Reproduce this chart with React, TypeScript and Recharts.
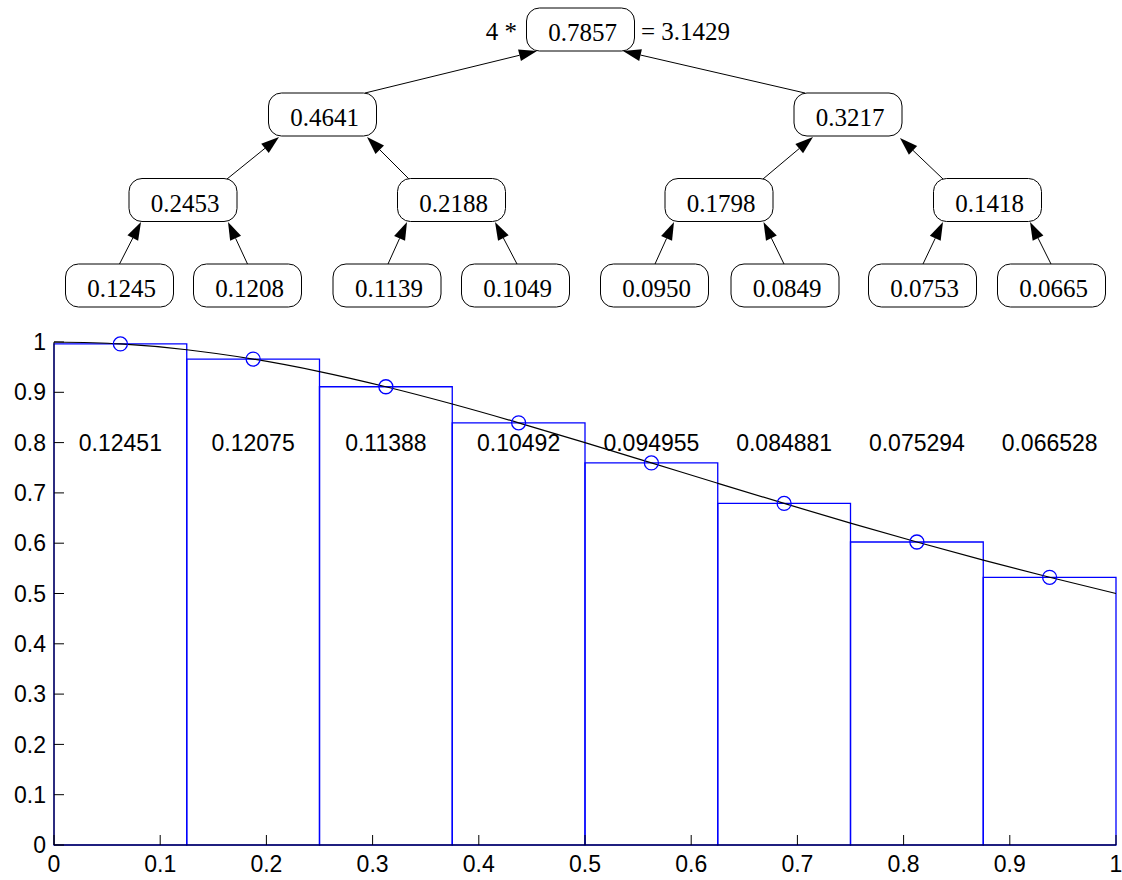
import React from 'react';
import { ComposedChart, Line, Scatter, XAxis, YAxis, ReferenceArea } from 'recharts';

// Midpoint rule for f(x) = 1 / (1 + x^2) on [0, 1] with eight panels
const binEdges = [0, 0.125, 0.25, 0.375, 0.5, 0.625, 0.75, 0.875, 1];
const midX = [0.0625, 0.1875, 0.3125, 0.4375, 0.5625, 0.6875, 0.8125, 0.9375];
const midY = [0.996109, 0.966038, 0.911032, 0.839344, 0.759644, 0.679045, 0.602353, 0.532224];
const panelAreas = ['0.12451', '0.12075', '0.11388', '0.10492', '0.094955', '0.084881', '0.075294', '0.066528'];

const curveX = [0, 0.0625, 0.125, 0.1875, 0.25, 0.3125, 0.375, 0.4375, 0.5, 0.5625, 0.625, 0.6875, 0.75, 0.8125, 0.875, 0.9375, 1];
const curveY = [1, 0.99611, 0.98462, 0.96604, 0.94118, 0.91103, 0.87671, 0.83934, 0.8, 0.75964, 0.7191, 0.67905, 0.64, 0.60235, 0.56637, 0.53222, 0.5];

const axisTicks = [0, 0.1, 0.2, 0.3, 0.4, 0.5, 0.6, 0.7, 0.8, 0.9, 1];

// Pairwise summation tree of the panel areas
const leafSums = ['0.1245', '0.1208', '0.1139', '0.1049', '0.0950', '0.0849', '0.0753', '0.0665'];
const pairSums = ['0.2453', '0.2188', '0.1798', '0.1418'];
const halfSums = ['0.4641', '0.3217'];
const totalSum = '0.7857';
const piEstimate = '3.1429';

const W = 1122;
const H = 880;
const BLUE = '#0000ff';
const SANS = '"Liberation Sans", Arial, Helvetica, sans-serif';
const SERIF = '"Liberation Serif", "Times New Roman", Times, serif';
const LABEL_LEVEL = 0.8;

const curveData = curveX.map((x, i) => ({ x, y: curveY[i] }));
const midData = midX.map((x, i) => ({ x, y: midY[i] }));
const labelData = midX.map((x, i) => ({ x, y: LABEL_LEVEL, text: panelAreas[i] }));

// tree layout (pixels)
const BOX_W = 108;
const BOX_H = 43;
const rootCx = 580.5;
const halfCx = [322.5, 848];
const pairCx = [183, 451.5, 719, 987.5];
const leafCx = [119.5, 247.5, 387, 515.5, 654.5, 785, 922.5, 1051.5];
const ROW_TOP = { root: 8, half: 93, pair: 178.5, leaf: 264 };

const edges: Array<[number, number, number, number]> = [
  [119.5, 264, 141, 222], [247.5, 264, 228, 222], [388, 264, 407, 222], [517, 264, 495, 222],
  [655, 264, 674, 222], [784, 264, 763.5, 222], [923, 264, 943, 222], [1051, 264, 1030, 222],
  [227, 179, 279, 137], [409, 179, 367, 137], [763, 179, 813, 137], [943, 179, 900, 138],
  [365, 93, 537, 51], [805, 93, 623, 51],
];

const Node = ({ cx, top, text }: { cx: number; top: number; text: string }) => (
  <g>
    <rect x={cx - BOX_W / 2} y={top} width={BOX_W} height={BOX_H} rx={13} ry={13}
      fill="#fff" stroke="#000" strokeWidth={1} />
    <text x={cx + 2} y={top + 33} textAnchor="middle" fontFamily={SERIF} fontSize={25} fill="#000">
      {text}
    </text>
  </g>
);

const Arrow = ({ e }: { e: [number, number, number, number] }) => {
  const [x1, y1, x2, y2] = e;
  const len = Math.hypot(x2 - x1, y2 - y1);
  const ux = (x2 - x1) / len;
  const uy = (y2 - y1) / len;
  const head = 18;
  const half = 6;
  const bx = x2 - ux * head;
  const by = y2 - uy * head;
  const pts = `${x2},${y2} ${bx - uy * half},${by + ux * half} ${bx + uy * half},${by - ux * half}`;
  return (
    <g>
      <line x1={x1} y1={y1} x2={bx} y2={by} stroke="#000" strokeWidth={1} />
      <polygon points={pts} fill="#000" />
    </g>
  );
};

const SumTree = () => (
  <svg width={W} height={320} style={{ position: 'absolute', left: 0, top: 0 }}>
    {edges.map((e, i) => <Arrow key={`e-${i}`} e={e} />)}
    <Node cx={rootCx} top={ROW_TOP.root} text={totalSum} />
    {halfCx.map((cx, i) => <Node key={`h-${i}`} cx={cx} top={ROW_TOP.half} text={halfSums[i]} />)}
    {pairCx.map((cx, i) => <Node key={`p-${i}`} cx={cx} top={ROW_TOP.pair} text={pairSums[i]} />)}
    {leafCx.map((cx, i) => <Node key={`l-${i}`} cx={cx} top={ROW_TOP.leaf} text={leafSums[i]} />)}
    <text x={517} y={40} textAnchor="end" fontFamily={SERIF} fontSize={25} fill="#000">4 *</text>
    <text x={641} y={40} textAnchor="start" fontFamily={SERIF} fontSize={25} fill="#000">{`= ${piEstimate}`}</text>
  </svg>
);

const fmt = (v: number) => String(Number(v.toFixed(1)));
const noLabel = () => <g />;
const tickStyle = { fill: '#000', fontSize: 23, fontFamily: SANS };

export default function App() {
  return (
    <div style={{ position: 'absolute', left: 0, top: 0, width: W, height: H, background: '#fff' }}>
      <ComposedChart width={W} height={H} margin={{ top: 342, right: 6, bottom: 0, left: 8 }}>
        <XAxis dataKey="x" type="number" domain={[0, 1]} ticks={axisTicks} tickFormatter={fmt}
          height={35} tickSize={-10} tickMargin={21} stroke="#000" tick={tickStyle} />
        <XAxis xAxisId="top" orientation="top" type="number" domain={[0, 1]} ticks={axisTicks}
          height={0} tickSize={-10} stroke="#000" tick={noLabel} />
        <YAxis type="number" domain={[0, 1]} ticks={axisTicks} tickFormatter={fmt}
          width={46} tickSize={-10} tickMargin={18} stroke="#000" tick={tickStyle} />
        <YAxis yAxisId="right" orientation="right" type="number" domain={[0, 1]} ticks={axisTicks}
          width={0} tickSize={-10} stroke="#000" tick={noLabel} />

        {midY.map((h, i) => (
          <ReferenceArea key={`bin-${i}`} x1={binEdges[i]} x2={binEdges[i + 1]} y1={0} y2={h}
            fill="none" fillOpacity={0} stroke={BLUE} strokeWidth={1.3} ifOverflow="visible" />
        ))}

        <Line data={curveData} dataKey="y" type="monotone" stroke="#000" strokeWidth={1.2}
          dot={false} activeDot={false} isAnimationActive={false} />

        <Scatter data={midData} dataKey="y" isAnimationActive={false}
          shape={(p: any) => <circle cx={p.cx} cy={p.cy} r={7} fill="none" stroke={BLUE} strokeWidth={1.3} />} />

        <Scatter data={labelData} dataKey="y" isAnimationActive={false}
          shape={(p: any) => (
            <text x={p.cx} y={p.cy} dy="0.36em" textAnchor="middle" fontFamily={SANS} fontSize={23} fill="#000">
              {p.payload.text}
            </text>
          )} />
      </ComposedChart>
      <SumTree />
    </div>
  );
}
